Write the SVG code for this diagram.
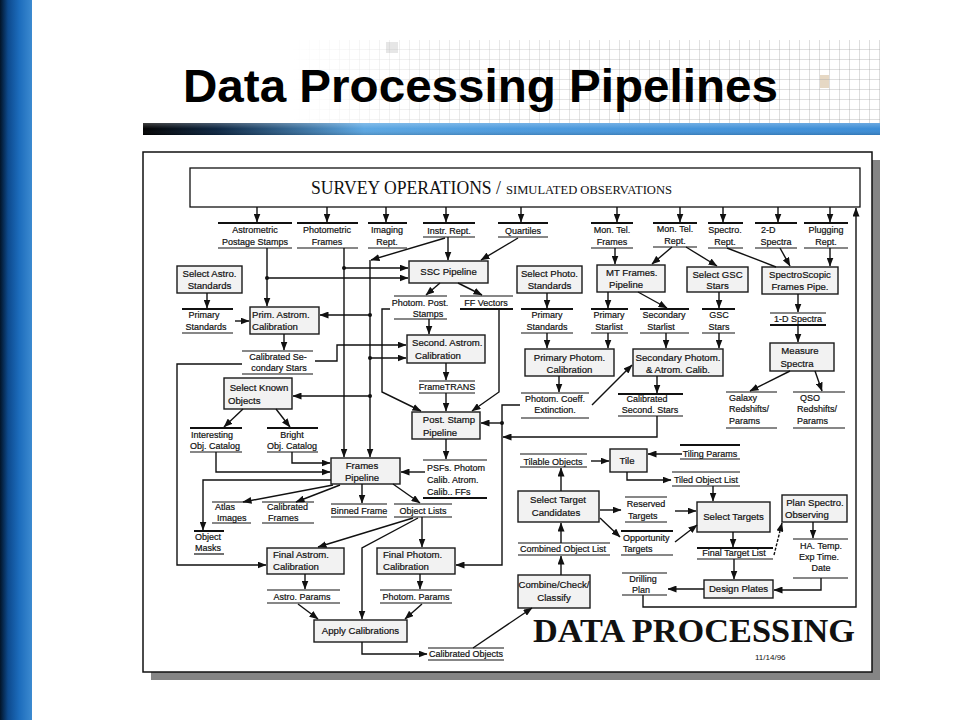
<svg xmlns="http://www.w3.org/2000/svg" width="960" height="720" viewBox="0 0 960 720">
<defs>
<style>
.box{fill:#f2f2f2;stroke:#1a1a1a;stroke-width:1.4}
.t{font-family:"Liberation Sans",Arial,sans-serif;font-size:9px;fill:#111;stroke:#111;stroke-width:0.2}
.bt{font-size:9.6px}
.c{text-anchor:middle}
.st{stroke:#111;stroke-width:2;fill:none}
.sb{stroke:#111;stroke-width:1.2;fill:none}
.sbk{stroke:#111;stroke-width:2;fill:none}
.ln{fill:none;stroke:#111;stroke-width:1.4;marker-end:url(#ah)}
.nl{fill:none;stroke:#111;stroke-width:1.4}
.dot{fill:#111}
</style>
<marker id="ah" viewBox="0 0 9 7" refX="8.5" refY="3.5" markerWidth="9" markerHeight="7" markerUnits="userSpaceOnUse" orient="auto">
<path d="M0,0 L9,3.5 L0,7 z" fill="#111"/>
</marker>
<linearGradient id="leftbar" x1="0" x2="1" y1="0" y2="0">
<stop offset="0" stop-color="#021428"/>
<stop offset="0.25" stop-color="#0d4a8e"/>
<stop offset="0.6" stop-color="#1c6cbc"/>
<stop offset="1" stop-color="#3c8ad0"/>
</linearGradient>
<linearGradient id="bluebar" x1="143" x2="880" y1="0" y2="0" gradientUnits="userSpaceOnUse">
<stop offset="0" stop-color="#000"/>
<stop offset="0.1" stop-color="#0b2440"/>
<stop offset="0.3" stop-color="#5aa6e2"/>
<stop offset="0.5" stop-color="#4b9ade"/>
<stop offset="1" stop-color="#3a8cd6"/>
</linearGradient>
<linearGradient id="barhl" x1="0" x2="0" y1="0" y2="1">
<stop offset="0" stop-color="#fff" stop-opacity="0.25"/>
<stop offset="0.5" stop-color="#fff" stop-opacity="0"/>
<stop offset="1" stop-color="#000" stop-opacity="0.15"/>
</linearGradient>
<pattern id="grid" width="10" height="10" patternUnits="userSpaceOnUse" x="0" y="40">
<path d="M10 0V10M0 10H10" stroke="#a9a9a9" stroke-width="0.8" fill="none"/>
</pattern>
<linearGradient id="fade" x1="290" x2="880" y1="0" y2="0" gradientUnits="userSpaceOnUse">
<stop offset="0" stop-color="#fff" stop-opacity="0"/>
<stop offset="0.25" stop-color="#fff" stop-opacity="0.6"/>
<stop offset="0.6" stop-color="#fff" stop-opacity="0.9"/>
<stop offset="1" stop-color="#fff" stop-opacity="1"/>
</linearGradient>
<mask id="gm"><rect x="290" y="40" width="590" height="83" fill="url(#fade)"/></mask>
</defs>

<rect width="960" height="720" fill="#fff"/>
<rect x="0" y="0" width="32" height="720" fill="url(#leftbar)"/>

<g id="header">
<rect x="386" y="42" width="12" height="11" fill="#e6e6e6"/>
<rect x="820" y="75" width="9" height="13" fill="#e6d8c4"/>
<rect x="290" y="40" width="590" height="83" fill="url(#grid)" mask="url(#gm)"/>
<text x="183" y="102" font-family="Liberation Sans, Arial, sans-serif" font-weight="bold" font-size="46" textLength="595" lengthAdjust="spacingAndGlyphs" fill="#000">Data Processing Pipelines</text>
<rect x="143" y="123" width="737" height="12" fill="url(#bluebar)"/>
<rect x="143" y="123" width="737" height="12" fill="url(#barhl)"/>
</g>

<g id="frame">
<rect x="151" y="160" width="729" height="520" fill="#858585"/>
<rect x="143" y="152" width="729" height="520" fill="#fff" stroke="#111" stroke-width="1.5"/>
</g>

<g id="survey-operations">
<rect x="190" y="168" width="670" height="39" fill="#fff" stroke="#111" stroke-width="1.3"/>
<text x="311" y="194" font-family="Liberation Serif, Times New Roman, serif" font-size="18" textLength="190" lengthAdjust="spacingAndGlyphs" fill="#111">SURVEY OPERATIONS /</text>
<text x="506" y="194" font-family="Liberation Serif, Times New Roman, serif" font-size="13.5" textLength="166" lengthAdjust="spacingAndGlyphs" fill="#111">SIMULATED OBSERVATIONS</text>
</g>

<!-- top row stores -->
<g id="astrometric-postage-stamps"><path class="st" d="M218 223H292"/><text class="t c" x="255" y="233">Astrometric</text><text class="t c" x="255" y="245">Postage Stamps</text><path class="sb" d="M218 248H292"/></g>
<g id="photometric-frames"><path class="st" d="M297 223H358"/><text class="t c" x="327" y="233">Photometric</text><text class="t c" x="327" y="245">Frames</text><path class="sb" d="M297 248H358"/></g>
<g id="imaging-rept"><path class="st" d="M368 223H407"/><text class="t c" x="387" y="233">Imaging</text><text class="t c" x="387" y="245">Rept.</text><path class="sb" d="M368 248H407"/></g>
<g id="instr-rept"><path class="st" d="M423 223H475"/><text class="t c" x="449" y="234">Instr. Rept.</text><path class="sb" d="M423 237H475"/></g>
<g id="quartiles"><path class="st" d="M498 223H548"/><text class="t c" x="523" y="234">Quartiles</text><path class="sb" d="M498 237H548"/></g>
<g id="mon-tel-frames"><path class="st" d="M591 223H633"/><text class="t c" x="612" y="233">Mon. Tel.</text><text class="t c" x="612" y="245">Frames</text><path class="sb" d="M591 248H633"/></g>
<g id="mon-tel-rept"><path class="st" d="M653 223H697"/><text class="t c" x="675" y="232">Mon. Tel.</text><text class="t c" x="675" y="244">Rept.</text><path class="sb" d="M653 247H697"/></g>
<g id="spectro-rept"><path class="st" d="M708 223H743"/><text class="t c" x="725" y="233">Spectro.</text><text class="t c" x="725" y="245">Rept.</text><path class="sb" d="M708 248H743"/></g>
<g id="2d-spectra"><path class="st" d="M755 223H797"/><text class="t" x="761" y="233">2-D</text><text class="t c" x="776" y="245">Spectra</text><path class="sb" d="M755 248H797"/></g>
<g id="plugging-rept"><path class="st" d="M804 223H848"/><text class="t c" x="826" y="233">Plugging</text><text class="t c" x="826" y="245">Rept.</text><path class="sb" d="M804 248H848"/></g>

<!-- row 2 boxes -->
<g id="select-astro-standards"><rect class="box" x="177" y="266" width="65" height="27"/><text class="t bt c" x="209.5" y="277">Select Astro.</text><text class="t bt c" x="209.5" y="289">Standards</text></g>
<g id="ssc-pipeline"><rect class="box" x="409" y="261" width="79" height="22"/><text class="t bt c" x="448.5" y="275">SSC Pipeline</text></g>
<g id="select-photo-standards"><rect class="box" x="517" y="266" width="65" height="27"/><text class="t bt c" x="549.5" y="277">Select Photo.</text><text class="t bt c" x="549.5" y="289">Standards</text></g>
<g id="mt-frames-pipeline"><rect class="box" x="597" y="265" width="68" height="27"/><text class="t bt" x="606" y="276">MT Frames.</text><text class="t bt" x="609" y="288">Pipeline</text></g>
<g id="select-gsc-stars"><rect class="box" x="687" y="267" width="61" height="25"/><text class="t bt c" x="717.5" y="278">Select GSC</text><text class="t bt c" x="717.5" y="289">Stars</text></g>
<g id="spectroscopic-frames-pipe"><rect class="box" x="762" y="267" width="76" height="27"/><text class="t bt c" x="800" y="278">SpectroScopic</text><text class="t bt c" x="800" y="290">Frames Pipe.</text></g>

<!-- row 3 -->
<g id="primary-standards-left"><path class="st" d="M182 309H233"/><text class="t c" x="204" y="318">Primary</text><text class="t c" x="206" y="330">Standards</text><path class="sb" d="M182 333H233"/></g>
<g id="prim-astrom-calibration"><rect class="box" x="250" y="307" width="69" height="27"/><text class="t bt" x="252" y="318">Prim. Astrom.</text><text class="t bt" x="252" y="330">Calibration</text></g>
<g id="photom-post-stamps"><path class="sb" d="M394 296H447"/><text class="t c" x="420" y="306">Photom. Post.</text><text class="t c" x="428" y="317">Stamps</text><path class="sb" d="M394 319H447"/></g>
<g id="ff-vectors"><path class="sb" d="M460 296H513"/><text class="t c" x="486" y="306">FF Vectors</text><path class="sbk" d="M460 309H513"/></g>
<g id="primary-standards-right"><path class="st" d="M521 309H573"/><text class="t c" x="547" y="318">Primary</text><text class="t c" x="547" y="330">Standards</text><path class="sb" d="M521 333H573"/></g>
<g id="primary-starlist"><path class="st" d="M591 309H628"/><text class="t c" x="609" y="318">Primary</text><text class="t c" x="609" y="330">Starlist</text><path class="sb" d="M591 333H628"/></g>
<g id="secondary-starlist"><path class="st" d="M640 309H689"/><text class="t c" x="664" y="318">Secondary</text><text class="t c" x="661" y="330">Starlist</text><path class="sb" d="M640 333H689"/></g>
<g id="gsc-stars"><path class="st" d="M702 309H735"/><text class="t c" x="719" y="318">GSC</text><text class="t c" x="719" y="330">Stars</text><path class="sb" d="M702 333H735"/></g>
<g id="1d-spectra"><path class="sb" d="M770 313H826"/><text class="t c" x="798" y="322">1-D Spectra</text><path class="sbk" d="M770 325H826"/></g>

<!-- row 4 -->
<g id="calibrated-secondary-stars"><path class="sb" d="M242 351H313"/><text class="t c" x="278" y="360">Calibrated Se-</text><text class="t c" x="279" y="371">condary Stars</text><path class="sb" d="M242 374H313"/></g>
<g id="second-astrom-calibration"><rect class="box" x="407" y="335" width="78" height="28"/><text class="t bt" x="412" y="346">Second. Astrom.</text><text class="t bt" x="415" y="359">Calibration</text></g>
<g id="primary-photom-calibration"><rect class="box" x="525" y="349" width="89" height="27"/><text class="t bt c" x="569.5" y="361">Primary Photom.</text><text class="t bt c" x="569.5" y="373">Calibration</text></g>
<g id="secondary-photom-calib"><rect class="box" x="633" y="349" width="90" height="27"/><text class="t bt c" x="678" y="361" textLength="85" lengthAdjust="spacingAndGlyphs">Secondary Photom.</text><text class="t bt c" x="678" y="373">&amp; Atrom. Calib.</text></g>
<g id="measure-spectra"><rect class="box" x="770" y="343" width="64" height="28"/><text class="t bt c" x="800" y="354">Measure</text><text class="t bt c" x="797" y="367">Spectra</text></g>
<g id="frametrans"><path class="sb" d="M419 381H475"/><text class="t c" x="447" y="390">FrameTRANS</text><path class="sb" d="M419 393H475"/></g>
<g id="select-known-objects"><rect class="box" x="224" y="378" width="68" height="31"/><text class="t bt c" x="259" y="391">Select Known</text><text class="t bt" x="228" y="404">Objects</text></g>
<g id="photom-coeff-extinction"><path class="sb" d="M521 393H589"/><text class="t c" x="555" y="402">Photom. Coeff.</text><text class="t c" x="555" y="413">Extinction.</text><path class="sb" d="M521 418H589"/></g>
<g id="calibrated-second-stars"><path class="sbk" d="M618 394H683"/><text class="t c" x="647" y="402">Calibrated</text><text class="t c" x="650" y="413">Second. Stars</text><path class="sb" d="M618 416H683"/></g>
<g id="galaxy-redshifts"><path class="sb" d="M726 392H777"/><text class="t" x="729" y="401">Galaxy</text><text class="t" x="729" y="412">Redshifts/</text><text class="t" x="729" y="424">Params</text><path class="sb" d="M726 428H777"/></g>
<g id="qso-redshifts"><path class="sb" d="M793 392H845"/><text class="t c" x="810" y="401">QSO</text><text class="t" x="797" y="412">Redshifts/</text><text class="t" x="797" y="424">Params</text><path class="sb" d="M793 428H845"/></g>
<g id="post-stamp-pipeline"><rect class="box" x="412" y="412" width="68" height="27"/><text class="t bt c" x="449" y="423">Post. Stamp</text><text class="t bt c" x="440" y="436">Pipeline</text></g>
<g id="interesting-obj-catalog"><path class="sbk" d="M190 428H242"/><text class="t" x="191" y="438">Interesting</text><text class="t" x="190" y="449">Obj. Catalog</text><path class="sb" d="M190 452H242"/></g>
<g id="bright-obj-catalog"><path class="sbk" d="M267 428H318"/><text class="t c" x="292" y="438">Bright</text><text class="t c" x="292" y="449">Obj. Catalog</text><path class="sb" d="M267 452H318"/></g>

<!-- lower right -->
<g id="tiling-params"><path class="sbk" d="M680 445H740"/><text class="t c" x="710" y="457">Tiling Params</text><path class="sb" d="M680 459H740"/></g>
<g id="tilable-objects"><path class="sb" d="M520 454H587"/><text class="t c" x="553" y="465">Tilable Objects</text><path class="sb" d="M520 467H587"/></g>
<g id="tile"><rect class="box" x="610" y="449" width="37" height="23"/><text class="t bt c" x="627" y="464">Tile</text></g>
<g id="tiled-object-list"><path class="sb" d="M672 472H740"/><text class="t c" x="706" y="483">Tiled Object List</text><path class="sb" d="M672 486H740"/></g>
<g id="frames-pipeline"><rect class="box" x="331" y="458" width="69" height="26"/><text class="t bt c" x="362" y="469">Frames</text><text class="t bt c" x="362" y="481">Pipeline</text></g>
<g id="psfs-photom-calib"><path class="sb" d="M423 460H487"/><text class="t" x="427" y="471">PSFs. Photom</text><text class="t" x="427" y="483">Calib. Atrom.</text><text class="t" x="427" y="495">Calib.. FFs</text><path class="sbk" d="M423 498H487"/></g>
<g id="select-target-candidates"><rect class="box" x="518" y="491" width="81" height="31"/><text class="t bt c" x="558" y="503">Select Target</text><text class="t bt c" x="556" y="516">Candidates</text></g>
<g id="reserved-targets"><path class="sb" d="M625 497H667"/><text class="t c" x="646" y="507">Reserved</text><text class="t" x="628" y="519">Targets</text><path class="sb" d="M625 522H667"/></g>
<g id="select-targets"><rect class="box" x="697" y="502" width="73" height="30"/><text class="t bt c" x="733.5" y="520">Select Targets</text></g>
<g id="plan-spectro-observing"><rect class="box" x="782" y="495" width="65" height="27"/><text class="t bt c" x="815" y="506">Plan Spectro.</text><text class="t bt" x="785" y="518">Observing</text></g>
<g id="atlas-images"><path class="sb" d="M212 502H251"/><text class="t" x="215" y="510">Atlas</text><text class="t" x="217" y="521">Images</text><path class="sb" d="M212 523H251"/></g>
<g id="calibrated-frames"><path class="sb" d="M262 502H314"/><text class="t" x="267" y="510">Calibrated</text><text class="t" x="268" y="521">Frames</text><path class="sb" d="M262 523H314"/></g>
<g id="binned-frame"><path class="sb" d="M331 504H387"/><text class="t c" x="359" y="514">Binned Frame</text><path class="sb" d="M331 517H387"/></g>
<g id="object-lists"><path class="sb" d="M394 504H452"/><text class="t c" x="423" y="514">Object Lists</text><path class="sb" d="M394 517H452"/></g>
<g id="object-masks"><path class="sbk" d="M194 531H224"/><text class="t" x="195" y="540">Object</text><text class="t" x="195" y="551">Masks</text><path class="sb" d="M194 554H224"/></g>
<g id="opportunity-targets"><path class="sbk" d="M621 531H673"/><text class="t" x="623" y="541">Opportunity</text><text class="t" x="623" y="552">Targets</text><path class="sb" d="M621 555H673"/></g>
<g id="ha-temp-exp-time-date"><path class="sb" d="M793 539H848"/><text class="t c" x="821" y="549">HA. Temp.</text><text class="t c" x="819" y="560">Exp Time.</text><text class="t c" x="821" y="571">Date</text><path class="sb" d="M793 578H848"/></g>
<g id="combined-object-list"><path class="sb" d="M518 543H610"/><text class="t c" x="563" y="552">Combined Object List</text><path class="sb" d="M518 555H610"/></g>
<g id="final-target-list"><path class="sbk" d="M697 548H773"/><text class="t c" x="734" y="556">Final Target List</text><path class="sb" d="M697 559H773"/></g>
<g id="final-astrom-calibration"><rect class="box" x="267" y="548" width="77" height="26"/><text class="t bt" x="273" y="558">Final Astrom.</text><text class="t bt" x="273" y="570">Calibration</text></g>
<g id="final-photom-calibration"><rect class="box" x="377" y="548" width="78" height="26"/><text class="t bt" x="383" y="558">Final Photom.</text><text class="t bt" x="383" y="570">Calibration</text></g>
<g id="drilling-plan"><path class="sb" d="M622 573H667"/><text class="t c" x="643" y="582">Drilling</text><text class="t" x="632" y="593">Plan</text><path class="sb" d="M622 595H667"/></g>
<g id="combine-check-classify"><rect class="box" x="518" y="575" width="72" height="33"/><text class="t bt c" x="554" y="588">Combine/Check/</text><text class="t bt c" x="554" y="601">Classify</text></g>
<g id="design-plates"><rect class="box" x="704" y="580" width="69" height="18"/><text class="t bt c" x="738.5" y="592">Design Plates</text></g>
<g id="astro-params"><path class="sb" d="M267 590H340"/><text class="t c" x="302" y="600">Astro. Params</text><path class="sb" d="M267 603H340"/></g>
<g id="photom-params"><path class="sb" d="M380 590H452"/><text class="t c" x="416" y="600">Photom. Params</text><path class="sb" d="M380 603H452"/></g>
<g id="apply-calibrations"><rect class="box" x="314" y="620" width="93" height="22"/><text class="t bt c" x="360.5" y="634">Apply Calibrations</text></g>
<g id="calibrated-objects"><path class="sb" d="M428 648H504"/><text class="t c" x="466" y="657">Calibrated Objects</text><path class="sb" d="M428 660H504"/></g>

<g id="connectors">
<path class="ln" d="M257 207V222"/>
<path class="ln" d="M327 207V222"/>
<path class="ln" d="M386 207V222"/>
<path class="ln" d="M446 207V222"/>
<path class="ln" d="M521 207V222"/>
<path class="ln" d="M617 207V222"/>
<path class="ln" d="M680 207V222"/>
<path class="ln" d="M723 207V222"/>
<path class="ln" d="M778 207V222"/>
<path class="ln" d="M830 207V222"/>
<path class="ln" d="M267 248V306"/>
<path class="ln" d="M267 278H408"/>
<path class="ln" d="M344 248V457"/>
<path class="ln" d="M344 268H408"/>
<path class="ln" d="M370 260V457"/>
<path class="ln" d="M445 238L371 260"/>
<path class="ln" d="M448 237V260"/>
<path class="ln" d="M518 238L481 260"/>
<path class="ln" d="M440 283L426 295"/>
<path class="ln" d="M458 283L482 295"/>
<path class="ln" d="M207 293V308"/>
<path class="ln" d="M235 321H249"/>
<path class="ln" d="M370 315H320"/>
<path class="ln" d="M284 334V350"/>
<path class="ln" d="M315 361H337V345H406"/>
<path class="ln" d="M370 358H406"/>
<path class="ln" d="M370 396H293"/>
<path class="ln" d="M242 364H177V565H266"/>
<path class="ln" d="M243 409L224 427"/>
<path class="ln" d="M276 409L290 427"/>
<path class="ln" d="M216 452V472H330"/>
<path class="ln" d="M292 452V463H330"/>
<path class="ln" d="M429 319V334"/>
<path class="ln" d="M390 309H382V392L421 411"/>
<path class="ln" d="M499 309V392L472 411"/>
<path class="ln" d="M446 363V380"/>
<path class="ln" d="M446 393V411"/>
<path class="ln" d="M446 439V459"/>
<path class="ln" d="M425 472H401"/>
<path class="ln" d="M331 480H203V530"/>
<path class="ln" d="M333 485L243 502"/>
<path class="ln" d="M340 485L296 502"/>
<path class="ln" d="M362 484V503"/>
<path class="ln" d="M393 484L420 503"/>
<path class="ln" d="M413 518L318 547"/>
<path class="ln" d="M418 518L362 548V619"/>
<path class="ln" d="M422 517V547"/>
<path class="ln" d="M305 574V589"/>
<path class="ln" d="M420 574V589"/>
<path class="ln" d="M298 604L318 619"/>
<path class="ln" d="M422 604L405 619"/>
<path class="ln" d="M362 642V654H427"/>
<path class="ln" d="M473 648L532 608"/>
<path class="ln" d="M520 405H502V565H456"/>
<path class="ln" d="M502 423H481"/>
<path class="ln" d="M657 416V437H503"/>
<path class="ln" d="M592 405L632 365"/>
<path class="ln" d="M615 248V264"/>
<path class="ln" d="M672 247L652 264"/>
<path class="ln" d="M686 247L717 266"/>
<path class="nl" d="M727 248L776 267"/>
<path class="ln" d="M780 248L790 266"/>
<path class="ln" d="M830 248V266"/>
<path class="ln" d="M547 293V308"/>
<path class="ln" d="M608 292V308"/>
<path class="ln" d="M638 292L667 308"/>
<path class="ln" d="M719 292V308"/>
<path class="ln" d="M798 294V312"/>
<path class="ln" d="M547 333V348"/>
<path class="ln" d="M608 333V348"/>
<path class="ln" d="M666 333V348"/>
<path class="ln" d="M719 333V348"/>
<path class="ln" d="M798 325V342"/>
<path class="ln" d="M559 376V392"/>
<path class="ln" d="M657 376V393"/>
<path class="ln" d="M790 371L750 391"/>
<path class="ln" d="M815 371L822 391"/>
<path class="ln" d="M561 575V556"/>
<path class="ln" d="M561 543V523"/>
<path class="ln" d="M561 491V468"/>
<path class="ln" d="M591 461H609"/>
<path class="ln" d="M682 454H648"/>
<path class="ln" d="M627 472V480H671"/>
<path class="ln" d="M713 486V501"/>
<path class="ln" d="M600 510H621"/>
<path class="ln" d="M675 511H696"/>
<path class="ln" d="M600 518L620 537"/>
<path class="ln" d="M675 542L697 525"/>
<path class="ln" d="M733 532V547"/>
<path class="ln" d="M774 555L782 523" stroke-dasharray="3 1.5"/>
<path class="ln" d="M813 522V538"/>
<path class="ln" d="M821 578V590H774"/>
<path class="ln" d="M734 559V579"/>
<path class="ln" d="M704 589H668"/>
<path class="ln" d="M643 595V607H856V208"/>
<circle class="dot" cx="267" cy="278" r="2"/>
<circle class="dot" cx="344" cy="268" r="2"/>
<circle class="dot" cx="370" cy="315" r="2"/>
<circle class="dot" cx="370" cy="358" r="2"/>
<circle class="dot" cx="370" cy="396" r="2"/>
<circle class="dot" cx="502" cy="423" r="2"/>
</g>

<g id="footer">
<text x="533" y="642" font-family="Liberation Serif, Times New Roman, serif" font-weight="bold" font-size="33.5" textLength="322" lengthAdjust="spacingAndGlyphs" fill="#111">DATA PROCESSING</text>
<text x="755" y="660" font-family="Liberation Sans, Arial, sans-serif" font-size="8" fill="#111">11/14/96</text>
</g>
</svg>
